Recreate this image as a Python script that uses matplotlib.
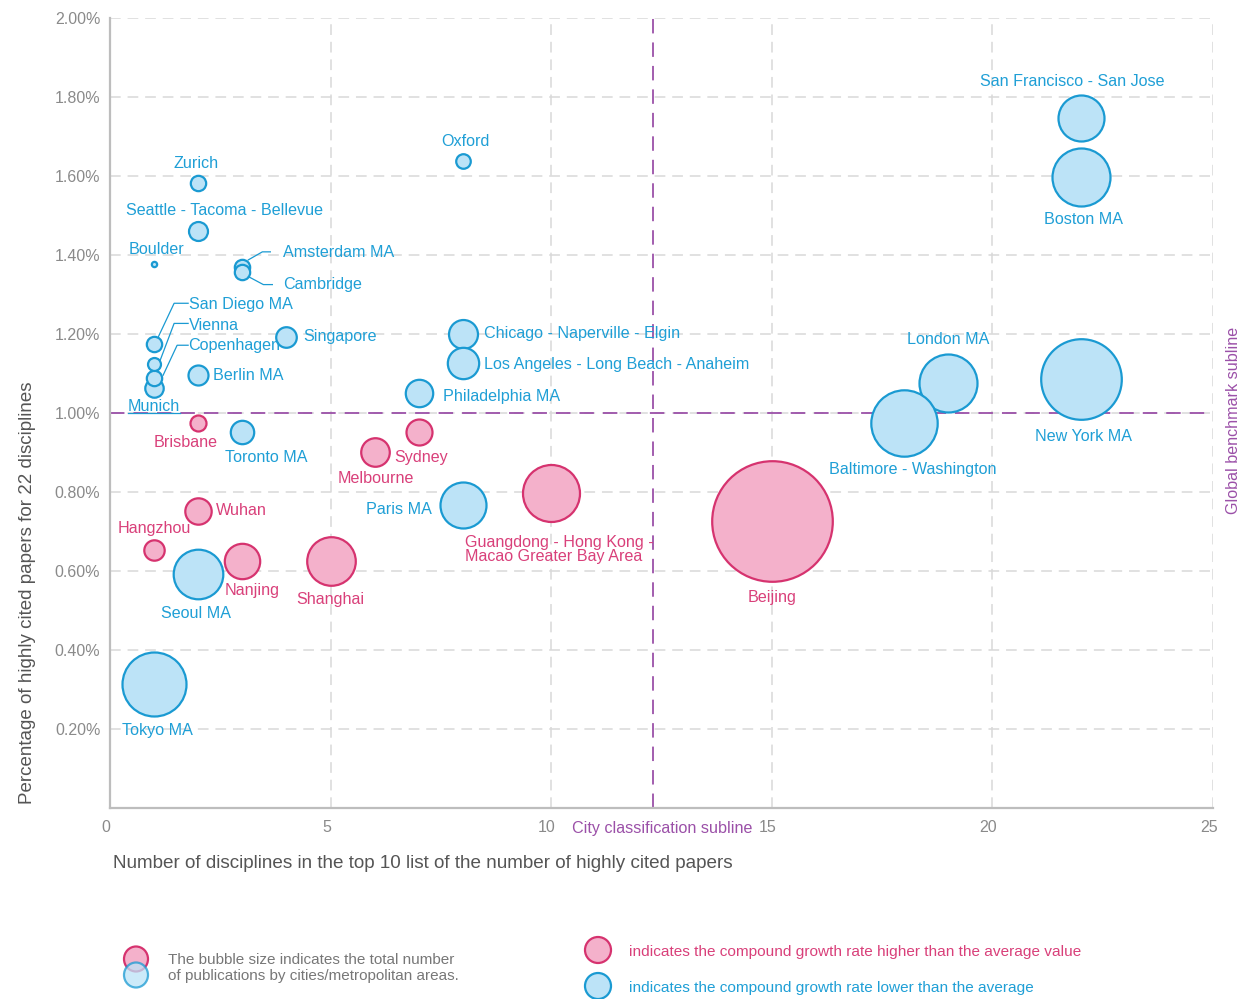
import matplotlib
matplotlib.use("Agg")
import matplotlib.pyplot as plt
from matplotlib.patches import Ellipse
import numpy as np

plt.rcParams['font.family'] = ['Liberation Sans', 'DejaVu Sans']

# city data: x = disciplines in top 10, y = share of highly cited papers (%)
cities = ['Zurich', 'Seattle - Tacoma - Bellevue', 'Boulder', 'Amsterdam MA', 'Cambridge',
          'Munich', 'Copenhagen', 'Vienna', 'San Diego MA', 'Singapore', 'Berlin MA',
          'Oxford', 'Chicago - Naperville - Elgin', 'Los Angeles - Long Beach - Anaheim',
          'Philadelphia MA', 'Brisbane', 'Toronto MA', 'Melbourne', 'Sydney', 'Wuhan',
          'Hangzhou', 'Seoul MA', 'Nanjing', 'Shanghai', 'Tokyo MA', 'Paris MA',
          'Guangdong - Hong Kong -\nMacao Greater Bay Area', 'Beijing', 'London MA',
          'Baltimore - Washington', 'New York MA', 'San Francisco - San Jose', 'Boston MA']
disciplines = [2, 2, 1, 3, 3,
               1, 1, 1, 1, 4, 2,
               8, 8, 8,
               7, 2, 3, 6, 7, 2,
               1, 2, 3, 5, 1, 8,
               10, 15, 19,
               18, 22, 22, 22]
share = [1.582, 1.462, 1.377, 1.370, 1.358,
         1.064, 1.088, 1.123, 1.174, 1.193, 1.096,
         1.639, 1.200, 1.127,
         1.050, 0.975, 0.953, 0.902, 0.951, 0.753,
         0.653, 0.592, 0.626, 0.626, 0.313, 0.768,
         0.798, 0.727, 1.075,
         0.974, 1.085, 1.746, 1.598]
# relative publication volume (bubble area)
pubs = [59, 90, 7, 59, 59,
        85, 59, 42, 59, 106, 100,
        53, 210, 246,
        188, 64, 137, 204, 169, 174,
        104, 615, 313, 590, 1024, 529,
        812, 3636, 841,
        1102, 1624, 529, 841]
# 1 = growth higher than average, 0 = lower
higher = [0, 0, 0, 0, 0,
          0, 0, 0, 0, 0, 0,
          0, 0, 0,
          0, 1, 0, 1, 1, 1,
          1, 0, 1, 1, 0, 0,
          1, 1, 0,
          0, 0, 0, 0]

blue_edge, blue_fill, blue_text = '#1a9ad2', '#bce3f7', '#1f9fd6'
pink_edge, pink_fill, pink_text = '#d6336f', '#f4b1cb', '#d9407a'
purple = '#9b50a8'
grey = '#8a8a8a'

# label placement: pixel offset from bubble centre (x right, y down), alignment
lab = {
    'Zurich': (-2, -20, 'center'), 'Seattle - Tacoma - Bellevue': (26, -20, 'center'),
    'Boulder': (2, -15, 'center'), 'Amsterdam MA': (41, -14, 'left'),
    'Cambridge': (41, 13, 'left'), 'Munich': (0, 19, 'center'),
    'Copenhagen': (34, -33, 'left'), 'Vienna': (35, -39, 'left'),
    'San Diego MA': (35, -40, 'left'), 'Singapore': (17, 0, 'left'),
    'Berlin MA': (15, 0, 'left'), 'Oxford': (2, -19, 'center'),
    'Chicago - Naperville - Elgin': (21, 0, 'left'),
    'Los Angeles - Long Beach - Anaheim': (21, 2, 'left'),
    'Philadelphia MA': (24, 3, 'left'), 'Brisbane': (-13, 20, 'center'),
    'Toronto MA': (24, 26, 'center'), 'Melbourne': (1, 27, 'center'),
    'Sydney': (2, 25, 'center'), 'Wuhan': (18, 0, 'left'),
    'Hangzhou': (0, -22, 'center'), 'Seoul MA': (-2, 39, 'center'),
    'Nanjing': (10, 30, 'center'), 'Shanghai': (0, 39, 'center'),
    'Tokyo MA': (3, 46, 'center'), 'Paris MA': (-31, 5, 'right'),
    'Guangdong - Hong Kong -\nMacao Greater Bay Area': (-86, 57, 'left'),
    'Beijing': (0, 77, 'center'), 'London MA': (0, -44, 'center'),
    'Baltimore - Washington': (9, 46, 'center'), 'New York MA': (3, 57, 'center'),
    'San Francisco - San Jose': (-8, -37, 'center'), 'Boston MA': (3, 43, 'center'),
}
leaders = {
    'Amsterdam MA': [(6, -7), (20, -15), (28, -15)],
    'Cambridge': [(6, 5), (21, 13), (30, 13)],
    'San Diego MA': [(4, -7), (20, -41), (34, -41)],
    'Vienna': [(6, -4), (20, -41), (34, -41)],
    'Copenhagen': [(9, -3), (23, -33), (34, -33)],
    'Munich': [(-26, 25), (26, 25)],
}

W, H, DPI = 1242, 999, 100
fig = plt.figure(figsize=(W / DPI, H / DPI), dpi=DPI)
ax = fig.add_axes([110 / W, 1 - 808 / H, (1213 - 110) / W, (808 - 18) / H])
ax.set_xlim(0, 25)
ax.set_ylim(0, 2.0)

ax.set_xticks([5, 10, 15, 20, 25])
ax.set_yticks(np.arange(0.2, 2.01, 0.2))
ax.grid(True, color='#d8d8d8', linestyle=(0, (7, 4.5)), linewidth=1.1)
ax.set_axisbelow(True)
for s in ['top', 'right']:
    ax.spines[s].set_visible(False)
for s in ['left', 'bottom']:
    ax.spines[s].set_color('#bdbdbd')
    ax.spines[s].set_linewidth(1.6)
ax.tick_params(length=0, colors=grey, labelsize=11.5)
ax.set_yticklabels(['%.2f%%' % v for v in ax.get_yticks()])
ax.tick_params(axis='y', pad=7)
ax.set_xticklabels([])
for v in [0, 5, 10, 15, 20, 25]:
    ax.annotate(str(v), xy=(v, 0), xytext=(-3, -14), textcoords='offset points',
                ha='center', va='center', color=grey, fontsize=11.5, annotation_clip=False)

# sublines
ax.axvline(12.3, color=purple, linestyle=(0, (8, 5)), linewidth=1.3, zorder=1)
ax.axhline(1.0, color=purple, linestyle=(0, (8, 5)), linewidth=1.3, zorder=1)

# bubbles
k = 72 / DPI
for i in range(len(cities)):
    fc = pink_fill if higher[i] else blue_fill
    ec = pink_edge if higher[i] else blue_edge
    ax.scatter(disciplines[i], share[i], s=4 * k * k * pubs[i], facecolor=fc,
               edgecolor=ec, linewidth=1.6, zorder=3 + i * 0.01)

for i, c in enumerate(cities):
    dx, dy, ha = lab[c]
    col = pink_text if higher[i] else blue_text
    ax.annotate(c, xy=(disciplines[i], share[i]), xytext=(dx * k, -dy * k),
                textcoords='offset points', ha=ha, va='center', color=col,
                fontsize=11.6, linespacing=0.9, zorder=5)
    if c in leaders:
        px, py = ax.transData.transform((disciplines[i], share[i]))
        pts = [ax.transData.inverted().transform((px + a, py - b)) for a, b in leaders[c]]
        pts = np.array(pts)
        ax.plot(pts[:, 0], pts[:, 1], color=blue_edge, linewidth=0.9, zorder=4)

# text labels
fig.text(662 / W, 1 - 828 / H, 'City classification subline', color=purple,
         fontsize=11.6, ha='center', va='center')
fig.text(1234 / W, 1 - 420 / H, 'Global benchmark subline', color=purple,
         fontsize=11.6, ha='center', va='center', rotation=90)
fig.text(113 / W, 1 - 864 / H,
         'Number of disciplines in the top 10 list of the number of highly cited papers',
         color='#555555', fontsize=13.6, ha='left', va='center')
fig.text(28 / W, 1 - 593 / H, 'Percentage of highly cited papers for 22 disciplines',
         color='#555555', fontsize=13.5, ha='center', va='center', rotation=90)

# legend area
lax = fig.add_axes([0, 0, 1, 1], zorder=-1)
lax.set_xlim(0, W)
lax.set_ylim(H, 0)
lax.axis('off')
lax.add_patch(Ellipse((136, 959), 24, 25, facecolor=pink_fill, edgecolor=pink_edge, linewidth=1.6))
lax.add_patch(Ellipse((136, 975), 24, 25, facecolor=blue_fill, edgecolor=blue_edge,
                      linewidth=1.6, alpha=0.75))
lax.add_patch(Ellipse((598, 950), 26, 26, facecolor=pink_fill, edgecolor=pink_edge, linewidth=1.6))
lax.add_patch(Ellipse((598, 986), 26, 26, facecolor=blue_fill, edgecolor=blue_edge, linewidth=1.6))
lax.text(168, 960, 'The bubble size indicates the total number', color='#777777',
         fontsize=11, ha='left', va='center')
lax.text(168, 976, 'of publications by cities/metropolitan areas.', color='#777777',
         fontsize=11, ha='left', va='center')
lax.text(629, 952, 'indicates the compound growth rate higher than the average value',
         color=pink_text, fontsize=11.1, ha='left', va='center')
lax.text(629, 988, 'indicates the compound growth rate lower than the average',
         color=blue_text, fontsize=11.1, ha='left', va='center')

fig.savefig('out.png', dpi=DPI)
